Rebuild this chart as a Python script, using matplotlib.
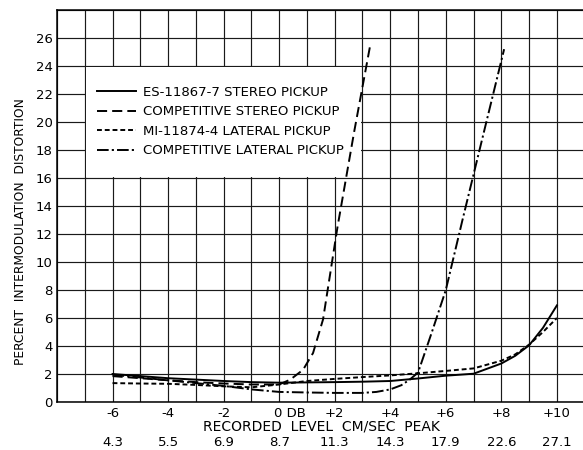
import matplotlib
matplotlib.use("Agg")
import matplotlib.pyplot as plt
from matplotlib.patches import Rectangle
from matplotlib.transforms import blended_transform_factory, ScaledTranslation

# recorded level, dB relative to 0 DB
es_x = [-6, -5, -4, -3, -2, -1, 0, 1, 2, 3, 4, 5, 6, 7, 8, 8.5, 9, 9.5, 10]
es_y = [2.0, 1.85, 1.7, 1.6, 1.5, 1.42, 1.38, 1.4, 1.42, 1.45, 1.5, 1.68, 1.88, 2.02, 2.75, 3.3, 4.05, 5.3, 6.9]

comp_st_x = [-6, -5, -4, -3, -2, -1, 0, 0.4, 0.86, 1.22, 1.58, 2.1, 2.7, 3.27]
comp_st_y = [1.85, 1.7, 1.55, 1.42, 1.32, 1.25, 1.25, 1.6, 2.3, 3.5, 5.9, 12.5, 19.3, 25.4]

mi_x = [-6, -5, -4, -3, -2, -1, 0, 1, 2, 3, 4, 5, 6, 7, 8, 8.5, 9, 9.5, 10]
mi_y = [1.35, 1.32, 1.3, 1.22, 1.12, 1.05, 1.25, 1.5, 1.65, 1.78, 1.9, 2.05, 2.22, 2.4, 2.95, 3.4, 4.1, 5.0, 6.0]

comp_lat_x = [-6, -5, -4, -3, -2, -1, 0, 1, 2, 3, 3.5, 4, 4.4, 4.7, 5.0, 5.5, 6.0, 6.6, 7.3, 8.1]
comp_lat_y = [1.95, 1.75, 1.55, 1.35, 1.15, 0.9, 0.72, 0.68, 0.65, 0.65, 0.72, 0.9, 1.2, 1.6, 2.1, 5.0, 8.0, 13.0, 18.7, 25.2]

db_ticks = [-6, -4, -2, 0, 2, 4, 6, 8, 10]
db_labels = ["-6", "-4", "-2", "0 DB", "+2", "+4", "+6", "+8", "+10"]
cm_sec = ["4.3", "5.5", "6.9", "8.7", "11.3", "14.3", "17.9", "22.6", "27.1"]

labels = ["ES-11867-7 STEREO PICKUP", "COMPETITIVE STEREO PICKUP",
          "MI-11874-4 LATERAL PICKUP", "COMPETITIVE LATERAL PICKUP"]

fig = plt.figure(figsize=(5.83, 4.5), dpi=100)
ax = fig.add_axes([57 / 583, 1 - 402 / 450, 1 - 57 / 583, 392 / 450])

ax.set_xlim(-8, 10.94)
ax.set_ylim(0, 28)

# graph paper grid
ax.set_xticks(db_ticks)
ax.set_xticks(range(-8, 11), minor=True)
ax.set_yticks(range(0, 27, 2))
ax.set_yticks(range(0, 29, 2), minor=True)
ax.grid(which="both", color="#1a1a1a", lw=0.85)
ax.set_axisbelow(True)
ax.set_xticklabels(db_labels)
ax.tick_params(which="both", length=0, labelsize=9.5)
ax.tick_params(axis="x", pad=3.5)
ax.tick_params(axis="y", pad=3)
for s in ["left", "bottom", "top"]:
    ax.spines[s].set_linewidth(1.1)
ax.spines["right"].set_visible(False)

# "0 DB": keep the 0 over its grid line
for lab in ax.get_xticklabels():
    if lab.get_text() == "0 DB":
        lab.set_horizontalalignment("left")
        lab.set_transform(lab.get_transform() +
                          ScaledTranslation(-4 / 72, 0, fig.dpi_scale_trans))

# blank patch of paper for the key
ax.add_patch(Rectangle((-6.96, 16.08), 9.92, 7.84, facecolor="white",
                       edgecolor="none", zorder=1))

lw = 1.4
h1, = ax.plot(es_x, es_y, color="black", lw=lw, zorder=3)
h2, = ax.plot(comp_st_x, comp_st_y, color="black", lw=lw,
              linestyle=(0, (5.2, 2.6)), zorder=3)
h3, = ax.plot(mi_x, mi_y, color="black", lw=lw,
              linestyle=(0, (2.5, 1.5)), zorder=3)
h4, = ax.plot(comp_lat_x, comp_lat_y, color="black", lw=lw,
              linestyle=(0, (6.0, 1.6, 1.1, 1.6)), zorder=3)

ax.legend([h1, h2, h3, h4], labels, loc="upper left",
          bbox_to_anchor=(-6.55, 22.6), bbox_transform=ax.transData,
          frameon=False, fontsize=9.5, handlelength=2.9, handletextpad=0.6,
          labelspacing=0.5, borderpad=0, borderaxespad=0)

# cm/sec peak values under the dB scale
trans = blended_transform_factory(ax.transData, ax.transAxes)
for x, v in zip(db_ticks, cm_sec):
    ax.text(x, -41 / 392, v, transform=trans, ha="center", va="center",
            fontsize=9.5)

fig.text(321 / 583, 1 - 427 / 450, "RECORDED  LEVEL  CM/SEC  PEAK",
         ha="center", va="center", fontsize=10)
fig.text(21 / 583, 1 - 232 / 450, "PERCENT  INTERMODULATION  DISTORTION",
         ha="center", va="center", rotation=90, fontsize=8.8)

fig.savefig("out.png", dpi=100)
